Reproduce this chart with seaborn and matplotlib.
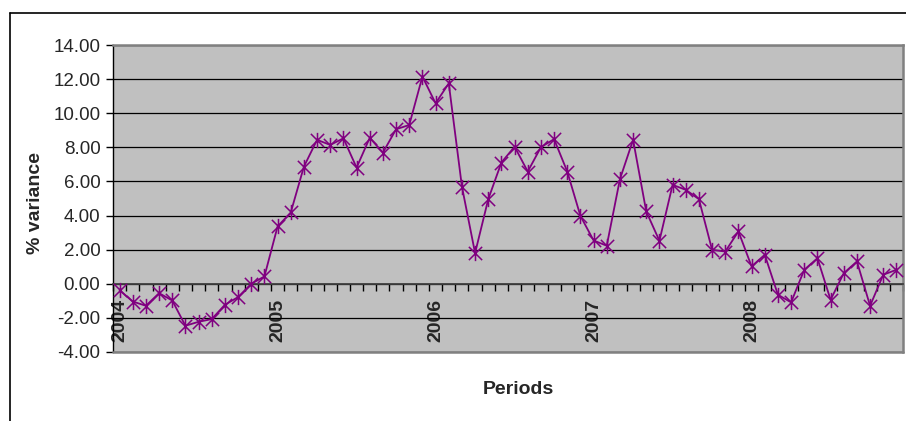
import numpy as np
import matplotlib
matplotlib.use("Agg")
import matplotlib.pyplot as plt
from matplotlib.path import Path
from matplotlib.lines import Line2D
import seaborn as sns

# Monthly % variance, January 2004 to December 2008
variance = [
    -0.38, -1.04, -1.29, -0.55, -0.98, -2.46, -2.23, -2.07, -1.23, -0.78, 0.00, 0.43,
    3.36, 4.18, 6.87, 8.44, 8.14, 8.53, 6.81, 8.56, 7.69, 9.06, 9.31, 12.15,
    10.58, 11.75, 5.70, 1.80, 4.96, 7.11, 8.04, 6.58, 8.01, 8.48, 6.58, 3.98,
    2.54, 2.23, 6.13, 8.44, 4.24, 2.52, 5.80, 5.51, 4.96, 1.99, 1.89, 3.07,
    1.02, 1.70, -0.64, -1.09, 0.82, 1.50, -0.94, 0.62, 1.31, -1.29, 0.53, 0.82,
]
year_labels = ["2004", "2005", "2006", "2007", "2008"]
months_per_year = 12

sns.set_style("white")
plt.rcParams["font.family"] = ["Liberation Sans", "DejaVu Sans"]
plt.rcParams["axes.unicode_minus"] = False

fig = plt.figure(figsize=(9.06, 4.21), dpi=100)
ax = fig.add_axes([113 / 906, 1 - 352 / 421, 790 / 906, 307 / 421])
ax.set_facecolor("#C0C0C0")

# Excel-style star marker: an X crossed by a vertical bar
star = Path(
    [(-1, -1), (1, 1), (-1, 1), (1, -1), (0, -1.15), (0, 1.15)],
    [Path.MOVETO, Path.LINETO, Path.MOVETO, Path.LINETO, Path.MOVETO, Path.LINETO],
)

x = np.arange(len(variance))
sns.lineplot(x=x, y=variance, ax=ax, color="#800080", linewidth=1.3,
             marker=star, markersize=11, markeredgewidth=1.1,
             markeredgecolor="#800080", markerfacecolor="none", zorder=4)

ax.set_xlim(-0.5, len(variance) - 0.5)
ax.set_ylim(-4, 14)
yticks = np.arange(-4, 15, 2)
ax.set_yticks(yticks)
ax.set_yticklabels([f"{v:.2f}" for v in yticks], fontsize=13.5)
ax.yaxis.grid(True, color="black", linewidth=0.9)
ax.set_axisbelow(True)
ax.tick_params(axis="y", which="both", left=True, direction="out", length=5,
               width=1, color="black", pad=4)

# Category axis crosses at zero
ax.spines["bottom"].set_position(("data", 0))
ax.spines["bottom"].set_color("#404040")
ax.spines["bottom"].set_linewidth(1.3)
ax.spines["left"].set_color("black")
ax.spines["left"].set_linewidth(1.0)
for side in ("top", "right"):
    ax.spines[side].set_color("#808080")
    ax.spines[side].set_linewidth(1.8)
ax.plot([0, 1], [0, 0], transform=ax.transAxes, color="#808080",
        linewidth=1.8, clip_on=False, zorder=5)

year_pos = [i * months_per_year for i in range(len(year_labels))]
ax.set_xticks(year_pos)
ax.set_xticklabels(year_labels, rotation=90, fontsize=14, fontweight="bold",
                   va="top", ha="center")
ax.tick_params(axis="x", which="major", bottom=True, length=0, pad=11)
ax.set_xticks(np.arange(-0.5, len(variance), 1), minor=True)
ax.tick_params(axis="x", which="minor", bottom=True, direction="out", length=5,
               width=1, color="black")

ax.set_xlabel("")
ax.set_ylabel("")
fig.text(518 / 906, 1 - 389 / 421, "Periods", ha="center", va="center",
         fontsize=14, fontweight="bold")
fig.text(36 / 906, 1 - 203 / 421, "% variance", ha="center", va="center",
         rotation=90, fontsize=14, fontweight="bold")

# Chart frame (left and top edges)
fig.add_artist(Line2D([10 / 906, 10 / 906], [0, 1 - 13 / 421],
                      transform=fig.transFigure, color="black", linewidth=1.2))
fig.add_artist(Line2D([10 / 906, 1], [1 - 13 / 421, 1 - 13 / 421],
                      transform=fig.transFigure, color="black", linewidth=1.2))

fig.savefig("out.png", dpi=100, facecolor="white")
